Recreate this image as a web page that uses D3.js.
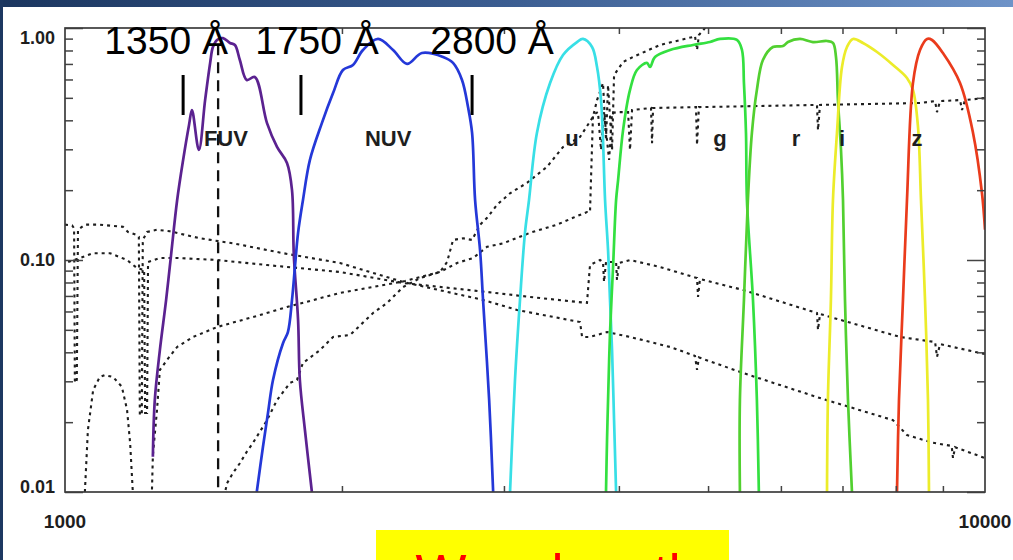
<!DOCTYPE html>
<html>
<head>
<meta charset="utf-8">
<script src="https://cdn.jsdelivr.net/npm/d3@7"></script>
<style>
  html, body { margin: 0; padding: 0; background: #fff; }
  svg { display: block; }
</style>
</head>
<body>
<svg id="chart" width="1013" height="560"></svg>
<script>
// Filter response curves: [wavelength in Å, normalized throughput]
const fuvCurve = [[1246,.0142],[1252,.0249],[1268,.0409],[1288,.0673],[1304,.105],[1324,.181],[1344,.270],[1364,.382],[1374,.443],[1398,.298],[1420,.489],[1438,.707],[1448,.828],[1463,.888],[1485,.905],[1511,.862],[1530,.845],[1549,.728],[1576,.597],[1608,.615],[1658,.389],[1700,.307],[1743,.262],[1765,.200],[1773,.105],[1792,.0551],[1800,.0304],[1823,.0185],[1855,.0100]];
const nuvCurve = [[1616,.0100],[1641,.0156],[1662,.0219],[1683,.0304],[1726,.0439],[1747,.0489],[1765,.0673],[1778,.0933],[1792,.131],[1814,.181],[1846,.270],[1902,.389],[1956,.524],[2005,.659],[2056,.693],[2108,.804],[2189,.897],[2273,.804],[2354,.700],[2443,.780],[2576,.750],[2641,.707],[2701,.597],[2742,.456],[2770,.353],[2791,.181],[2826,.110],[2847,.0673],[2891,.0249],[2920,.0100]];
const uCurve = [[3046,.0100],[3084,.0304],[3123,.0673],[3162,.131],[3194,.181],[3258,.353],[3367,.579],[3478,.765],[3602,.870],[3656,.897],[3740,.828],[3787,.679],[3825,.489],[3844,.329],[3864,.181],[3893,.110],[3912,.0673],[3932,.0409],[3952,.0204],[3972,.0100]];
const gCurve = [[3873,.0100],[3883,.0168],[3893,.0249],[3912,.0485],[3942,.0933],[3972,.181],[3992,.221],[4042,.363],[4113,.541],[4185,.659],[4291,.707],[4324,.679],[4378,.750],[4546,.804],[4815,.845],[5024,.870],[5152,.897],[5375,.888],[5443,.804],[5470,.579],[5498,.353],[5511,.181],[5595,.0673],[5650,.0249],[5678,.0100]];
const rCurve = [[5415,.0100],[5415,.0249],[5470,.0673],[5524,.181],[5580,.353],[5650,.541],[5736,.728],[5881,.828],[6031,.836],[6107,.870],[6293,.897],[6501,.870],[6734,.879],[6835,.862],[6887,.750],[6921,.489],[6974,.298],[7009,.181],[7044,.0673],[7097,.0249],[7168,.0100]];
const iCurve = [[6734,.0100],[6749,.0249],[6800,.0673],[6835,.181],[6904,.353],[6991,.679],[7079,.828],[7186,.897],[7368,.862],[7632,.788],[7943,.693],[8226,.609],[8350,.541],[8456,.375],[8520,.181],[8606,.0673],[8670,.0249],[8692,.0100]];
const zCurve = [[8023,.0100],[8063,.0249],[8144,.0673],[8226,.181],[8350,.579],[8499,.804],[8650,.897],[8758,.888],[9000,.780],[9394,.579],[9705,.353],[9925,.194],[10000,.135]];

// Template spectra (dotted), normalized flux
const spectrumA = [[1000,.142],[1018,.141],[1023,.137],[1025,.0295],[1030,.0304],[1033,.135],[1051,.142],[1091,.142],[1156,.139],[1171,.132],[1197,.128],[1203,.126],[1206,.0215],[1212,.0215],[1215,.122],[1228,.132],[1259,.135],[1300,.133],[1402,.124],[1523,.118],[1726,.107],[1990,.0971],[2331,.0804],[2847,.0673],[3100,.0609],[3629,.0540],[3648,.0466],[3721,.0466],[3883,.0489],[4113,.0466],[4546,.0422],[4839,.0386],[4864,.0336],[4887,.0380],[5457,.0326],[6617,.0254],[7943,.0204],[8226,.0176],[8780,.0163],[9200,.0158],[9230,.0140],[9278,.0156],[10000,.0140]];
const spectrumB = [[1008,.0980],[1038,.102],[1073,.107],[1119,.107],[1168,.100],[1197,.0924],[1219,.0906],[1222,.0219],[1228,.0219],[1231,.0980],[1268,.102],[1324,.102],[1463,.100],[1658,.0951],[1990,.0888],[2331,.0796],[2876,.0728],[3202,.0693],[3693,.0653],[3721,.0951],[3815,.100],[3844,.098],[3854,.0804],[3873,.098],[3972,.098],[3981,.082],[4002,.0971],[4113,.100],[4433,.0933],[4864,.0836],[4876,.0693],[4900,.0828],[5457,.0743],[6567,.0591],[6584,.0499],[6617,.0585],[8083,.0466],[8826,.0443],[8868,.0382],[8935,.0434],[10000,.0393]];
const spectrumC = [[1049,.00757],[1051,.0100],[1059,.0185],[1073,.0275],[1091,.0313],[1105,.0319],[1128,.0313],[1153,.0284],[1168,.0226],[1177,.0163],[1185,.0100],[1191,.0062],[1237,.0062],[1243,.0100],[1246,.0144],[1259,.0226],[1268,.0336],[1291,.0371],[1324,.0422],[1378,.0466],[1463,.0514],[1629,.0579],[1743,.0627],[1990,.0721],[2162,.0765],[2343,.0812],[2556,.0888],[2668,.0971],[2777,.102],[2876,.114],[2994,.118],[3202,.131],[3426,.142],[3566,.152],[3693,.161],[3721,.161],[3730,.221],[3749,.422],[3796,.434],[3825,.298],[3854,.434],[3903,.270],[3932,.430],[3981,.434],[4093,.434],[4113,.298],[4134,.443],[4335,.452],[4346,.319],[4357,.452],[4851,.456],[4864,.313],[4887,.456],[6567,.466],[6584,.363],[6617,.466],[8499,.475],[8826,.484],[8868,.434],[8935,.484],[9394,.489],[9441,.443],[9512,.489],[10000,.499]];
const spectrumD = [[1474,.0051],[1493,.0100],[1500,.0109],[1523,.0121],[1549,.0133],[1576,.0149],[1601,.0163],[1658,.0204],[1700,.0249],[1756,.0295],[1787,.0304],[1814,.0360],[1893,.0409],[1956,.0466],[2041,.0475],[2162,.0591],[2239,.0653],[2331,.0765],[2432,.0836],[2556,.0888],[2602,.0980],[2641,.122],[2708,.124],[2770,.122],[2826,.142],[2876,.152],[2949,.173],[3046,.194],[3178,.215],[3341,.252],[3478,.307],[3629,.339],[3749,.414],[3787,.489],[3844,.579],[3873,.329],[3893,.568],[3932,.298],[3952,.627],[4042,.714],[4144,.750],[4433,.845],[4815,.915],[4839,.924],[4864,.804],[4887,.933],[4962,1.0],[5087,1.083]];

// Filter names, colours and label positions (Å)
const bandNames   = ["FUV", "NUV", "u", "g", "r", "i", "z"];
const bandColors  = ["#5b2290", "#2438d8", "#38dfe6", "#33e040", "#52d030", "#ecec2a", "#ea3b1c"];
const bandLabelAt = [1496, 2245, 3557, 5152, 6232, 6991, 8436];

// Wavelength annotations above the plot
const markLabels  = ["1350 Å", "1750 Å", "2800 Å"];
const markTextAt  = [1288, 1879, 2912];
const markBarAt   = [1344, 1805, 2770];

// Vertical dashed reference line
const dashedLambda = 1467;
const dashedSpan   = [0.01, 0.85];

// Axis ticks
const xMajor = [1000, 10000];
const xMajorLabels = ["1000", "10000"];
const xMinor = [2000, 3000, 4000, 5000, 6000, 7000, 8000, 9000];
const yMajor = [0.01, 0.1, 1];
const yMajorLabels = ["0.01", "0.10", "1.00"];
const yMinor = [0.02,0.03,0.04,0.05,0.06,0.07,0.08,0.09,0.2,0.3,0.4,0.5,0.6,0.7,0.8,0.9];

const axisTitle = "Wavelength";

// ---------------------------------------------------------------
const svg = d3.select("#chart");
const W = 1013, H = 560;
const P = { left: 65, right: 985, top: 28, bottom: 492 };

const x = d3.scaleLog().domain([1000, 10000]).range([P.left, P.right]);
const y = d3.scaleLog().domain([0.01, 1]).range([P.bottom, P.top]);

const defs = svg.append("defs");
const grad = defs.append("linearGradient").attr("id", "topbar").attr("x1", "0").attr("x2", "1");
grad.append("stop").attr("offset", "0").attr("stop-color", "#1b365f");
grad.append("stop").attr("offset", "0.5").attr("stop-color", "#3b5d91");
grad.append("stop").attr("offset", "1").attr("stop-color", "#6e93c8");
defs.append("clipPath").attr("id", "plotclip").append("rect")
  .attr("x", P.left).attr("y", P.top)
  .attr("width", P.right - P.left).attr("height", P.bottom - P.top);

// slide frame
svg.append("rect").attr("width", W).attr("height", H).attr("fill", "#fff");
svg.append("rect").attr("x", 0).attr("y", 0).attr("width", W).attr("height", 7).attr("fill", "url(#topbar)");
svg.append("rect").attr("x", 0).attr("y", 0).attr("width", 3).attr("height", H).attr("fill", "#1d3861");

const line = d3.line().x(d => x(d[0])).y(d => y(d[1]));
const smooth = d3.line().x(d => x(d[0])).y(d => y(d[1])).curve(d3.curveCatmullRom.alpha(0.5));

const plot = svg.append("g").attr("clip-path", "url(#plotclip)");

// band labels
const labelFont = "'Liberation Sans', Arial, Helvetica, sans-serif";
svg.append("g").selectAll("text").data(bandNames).join("text")
  .attr("x", (d, i) => x(bandLabelAt[i]))
  .attr("y", 146)
  .attr("text-anchor", "middle")
  .attr("font-family", labelFont)
  .attr("font-size", 22)
  .attr("font-weight", "bold")
  .attr("fill", "#1e1e1e")
  .text(d => d);

// dotted spectra
[spectrumA, spectrumB, spectrumC, spectrumD].forEach(s => {
  plot.append("path").datum(s)
    .attr("d", line)
    .attr("fill", "none")
    .attr("stroke", "#1e1e1e")
    .attr("stroke-width", 2.1)
    .attr("stroke-dasharray", "3,4");
});

// filter curves
[fuvCurve, nuvCurve, uCurve, gCurve, rCurve, iCurve, zCurve].forEach((c, i) => {
  plot.append("path").datum(c)
    .attr("d", smooth)
    .attr("fill", "none")
    .attr("stroke", bandColors[i])
    .attr("stroke-width", 2.7)
    .attr("stroke-linejoin", "round");
});

// dashed reference line
plot.append("line")
  .attr("x1", x(dashedLambda)).attr("x2", x(dashedLambda))
  .attr("y1", y(dashedSpan[1])).attr("y2", y(dashedSpan[0]))
  .attr("stroke", "#111").attr("stroke-width", 2.3)
  .attr("stroke-dasharray", "11,7");

// axes: ticks point inward
function ticks(axis, tx, ty) {
  const g = svg.append("g").attr("transform", `translate(${tx},${ty})`).call(axis);
  g.select(".domain").remove();
  g.selectAll("text").remove();
  g.selectAll("line").attr("stroke", "#444").attr("stroke-width", 1.5);
}
ticks(d3.axisLeft(y).tickValues(yMinor).tickSize(-8), P.left, 0);
ticks(d3.axisLeft(y).tickValues(yMajor).tickSize(-18), P.left, 0);
ticks(d3.axisRight(y).tickValues(yMinor).tickSize(-8), P.right, 0);
ticks(d3.axisRight(y).tickValues(yMajor).tickSize(-18), P.right, 0);
ticks(d3.axisBottom(x).tickValues(xMinor).tickSize(-6), 0, P.bottom);
ticks(d3.axisTop(x).tickValues(xMinor).tickSize(-6), 0, P.top);

svg.append("rect")
  .attr("x", P.left).attr("y", P.top)
  .attr("width", P.right - P.left).attr("height", P.bottom - P.top)
  .attr("fill", "none").attr("stroke", "#3c3c3c").attr("stroke-width", 1.7);

// tick labels (kept inside the vertical extent of the frame)
svg.append("g").selectAll("text").data(yMajor).join("text")
  .attr("x", 55)
  .attr("y", d => Math.min(Math.max(y(d), P.top + 10), P.bottom - 5))
  .attr("dy", "0.36em")
  .attr("text-anchor", "end")
  .attr("font-family", labelFont)
  .attr("font-size", 18)
  .attr("font-weight", "bold")
  .attr("fill", "#1e1e1e")
  .text((d, i) => yMajorLabels[i]);

svg.append("g").selectAll("text").data(xMajor).join("text")
  .attr("x", d => x(d))
  .attr("y", 528)
  .attr("text-anchor", "middle")
  .attr("font-family", labelFont)
  .attr("font-size", 19)
  .attr("font-weight", "bold")
  .attr("fill", "#1e1e1e")
  .text((d, i) => xMajorLabels[i]);

// wavelength annotations
const ann = svg.append("g");
ann.selectAll("text").data(markLabels).join("text")
  .attr("x", (d, i) => x(markTextAt[i]))
  .attr("y", 54)
  .attr("text-anchor", "middle")
  .attr("font-family", labelFont)
  .attr("font-size", 39)
  .attr("fill", "#000")
  .text(d => d);
ann.selectAll("line").data(markBarAt).join("line")
  .attr("x1", d => x(d)).attr("x2", d => x(d))
  .attr("y1", 75).attr("y2", 115)
  .attr("stroke", "#000").attr("stroke-width", 3);

// axis title box, running off the bottom of the slide
svg.append("rect").attr("x", 376).attr("y", 530).attr("width", 353).attr("height", 40).attr("fill", "#ffff00");
svg.append("text")
  .attr("x", 557).attr("y", 592)
  .attr("text-anchor", "middle")
  .attr("font-family", labelFont)
  .attr("font-size", 54)
  .attr("fill", "#ff0000")
  .text(axisTitle);
</script>
</body>
</html>
